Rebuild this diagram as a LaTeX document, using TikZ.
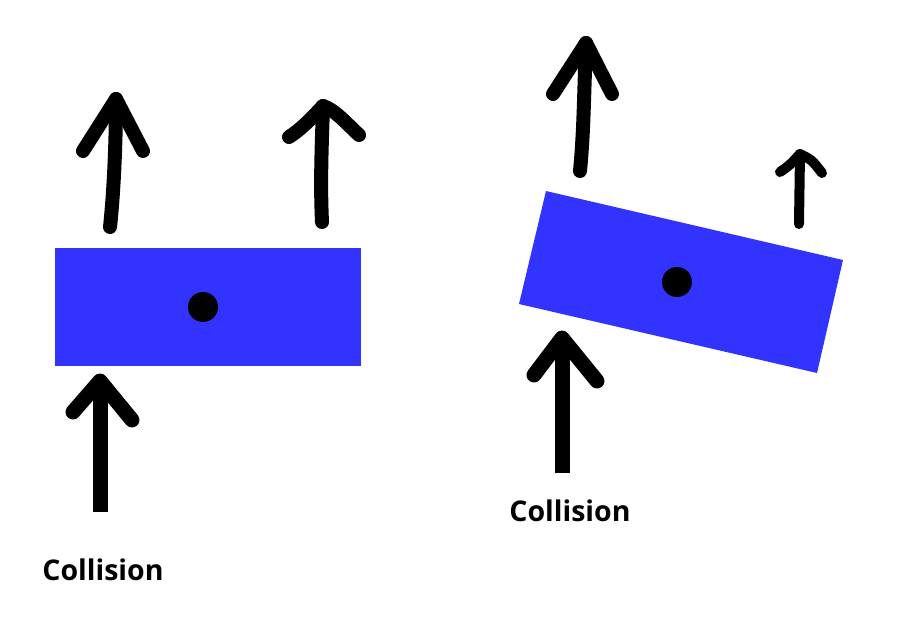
\documentclass[tikz,border=0pt]{standalone}
\usepackage{fontspec}
\setmainfont{Open Sans}
\definecolor{boxblue}{HTML}{3333FF}
\tikzset{
  shaft/.style={line width=14pt, line cap=round, line join=round},
  head/.style={line width=14pt, line cap=round, line join=round},
  thin/.style={line width=10pt, line cap=round, line join=round},
  block/.style={fill=boxblue, draw=none},
  label/.style={font=\bfseries\fontsize{28.5}{31}\selectfont, inner sep=0pt}
}
\begin{document}
\begin{tikzpicture}[x=1pt,y=-1pt]
\useasboundingbox (0,0) rectangle (906,618);
% left block
\fill[block] (55,248) rectangle (361,366);
\fill (203,307) circle (15);
% left top arrows
\coordinate (a1b) at (110,227); \coordinate (a1t) at (116,99);
\draw[shaft] (a1b) .. controls (114,190) and (116,140) .. (a1t);
\draw[head] (83,151) -- (a1t) -- (143,151);
\coordinate (a2b) at (322,222); \coordinate (a2t) at (323,106);
\draw[shaft] (a2b) .. controls (320,180) and (322,140) .. (a2t);
\draw[head] (289,137) .. controls (300,130) and (310,120) .. (a2t) .. controls (335,110) and (345,122) .. (359,135);
% left bottom arrow
\coordinate (a3b) at (100,512); \coordinate (a3t) at (100,381);
\draw[line width=15pt] (a3b) -- ([yshift=-10pt]a3t);
\draw[head, line width=15pt] (73,412) -- (a3t) -- (132,420);
\node[label] (c1) at (103,570) {Collision};
% right block
\fill[block] (546,191) -- (843,260) -- (817,373) -- (519,304) -- cycle;
\fill (677,282) circle (15);
% right top big arrow
\coordinate (b1b) at (580,171); \coordinate (b1t) at (586,43);
\draw[shaft] (b1b) .. controls (584,130) and (584,90) .. (b1t);
\draw[head] (553,94) -- (b1t) -- (612,94);
% small arrow
\coordinate (b2b) at (799,224); \coordinate (b2t) at (800,154);
\draw[thin] (b2b) -- (b2t);
\draw[thin] (780,172) .. controls (790,165) .. (b2t) .. controls (812,160) .. (822,173);
% right bottom arrow
\coordinate (b3b) at (562,473); \coordinate (b3t) at (562,338);
\draw[line width=15pt] (b3b) -- ([yshift=-10pt]b3t);
\draw[head, line width=15pt] (534,375) -- (b3t) -- (597,381);
\node[label] (c2) at (570,511) {Collision};
\end{tikzpicture}
\end{document}
